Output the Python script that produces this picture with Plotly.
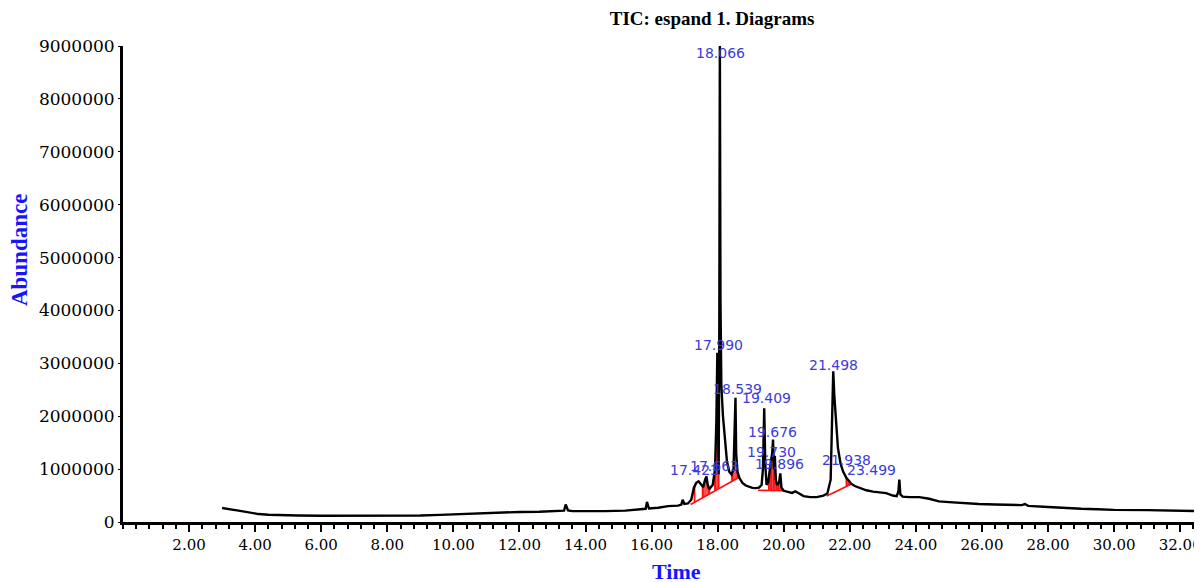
import numpy as np
import plotly.graph_objects as go

# ---- chromatogram (time in min, abundance) ----
time = [3.00, 3.15, 3.30, 3.50, 3.70, 3.90, 4.10, 4.40, 4.80, 5.30, 6.00, 7.00, 8.00, 9.00,
        9.60, 10.00, 10.40, 11.00, 11.50, 12.00, 12.60, 13.20, 13.35, 13.40, 13.47, 13.60,
        14.00, 14.60, 15.20, 15.70, 15.82, 15.86, 15.92, 16.20, 16.50, 16.80, 16.90, 16.94,
        16.99, 17.10, 17.20, 17.28, 17.35, 17.42, 17.50, 17.56, 17.62, 17.66, 17.70, 17.74,
        17.78, 17.85, 17.92, 17.96, 17.99, 18.01, 18.03, 18.05, 18.066, 18.085, 18.11, 18.16,
        18.22, 18.28, 18.35, 18.42, 18.48, 18.51, 18.539, 18.56, 18.60, 18.66, 18.75, 18.85,
        18.95, 19.05, 19.15, 19.25, 19.33, 19.37, 19.409, 19.44, 19.48, 19.53, 19.60, 19.65,
        19.676, 19.70, 19.73, 19.76, 19.80, 19.86, 19.896, 19.93, 20.00, 20.10, 20.25, 20.35,
        20.45, 20.60, 20.80, 21.00, 21.20, 21.32, 21.42, 21.46, 21.498, 21.53, 21.58, 21.64,
        21.72, 21.80, 21.90, 21.938, 21.97, 22.05, 22.15, 22.30, 22.50, 22.70, 22.90, 23.10,
        23.30, 23.42, 23.47, 23.499, 23.53, 23.60, 23.80, 24.10, 24.40, 24.70, 25.00, 25.40,
        25.90, 26.40, 26.90, 27.20, 27.30, 27.40, 28.00, 28.50, 29.00, 29.50, 30.00, 31.00,
        32.00, 32.66]
abundance = [265000, 255000, 235000, 215000, 190000, 165000, 150000, 138000, 128000, 122000,
             118000, 116000, 118000, 122000, 135000, 145000, 160000, 172000, 182000, 190000,
             195000, 205000, 215000, 330000, 220000, 205000, 200000, 205000, 215000, 240000,
             250000, 380000, 255000, 270000, 300000, 310000, 330000, 420000, 340000, 350000,
             420000, 650000, 740000, 770000, 700000, 660000, 800000, 860000, 700000, 620000,
             650000, 700000, 1000000, 1900000, 3200000, 1500000, 900000, 3800000, 9100000,
             4200000, 2600000, 2000000, 1550000, 1150000, 950000, 900000, 1000000, 1600000,
             2350000, 1300000, 950000, 830000, 740000, 690000, 660000, 645000, 640000, 650000,
             700000, 1000000, 2150000, 1100000, 700000, 750000, 1100000, 1300000, 1560000,
             1000000, 1250000, 800000, 700000, 750000, 920000, 650000, 590000, 570000, 550000,
             580000, 540000, 490000, 470000, 470000, 500000, 540000, 800000, 1800000, 2850000,
             2400000, 1950000, 1400000, 1100000, 950000, 830000, 800000, 770000, 720000, 680000,
             640000, 600000, 575000, 560000, 545000, 500000, 490000, 580000, 800000, 520000,
             480000, 470000, 470000, 440000, 390000, 375000, 355000, 340000, 330000, 315000,
             320000, 340000, 305000, 285000, 265000, 250000, 240000, 230000, 225000, 215000,
             205000]

# ---- integration baselines (red) ----
base1_t = [17.18, 18.64]
base1_y = [330000, 840000]
base2_t = [19.22, 20.02]
base2_y = [600000, 590000]
base3_t = [21.30, 22.05]
base3_y = [490000, 720000]

# drop lines (red) at peak boundaries
drop_t = [17.30, 17.55, 17.74, 17.92, 18.03, 18.44, 18.60,
          19.55, 19.62, 19.70, 19.78, 19.84, 19.94, 21.90, 21.98]

# red filled windows
fill_windows = [(17.52, 17.78), (17.90, 18.04), (18.40, 18.62), (19.56, 19.96), (21.88, 22.02)]

# ---- peak labels ----
label_text = ["18.066", "17.990", "18.539", "19.409", "19.676", "19.730", "19.896",
              "17.423", "17.663", "21.498", "21.938", "23.499"]
label_x = [18.08, 18.02, 18.60, 19.47, 19.66, 19.62, 19.87, 17.30, 17.90, 21.50, 21.89, 22.65]
label_y = [8870000, 3350000, 2510000, 2340000, 1700000, 1320000, 1100000,
           980000, 1060000, 2970000, 1170000, 980000]

x_ticks = [2, 4, 6, 8, 10, 12, 14, 16, 18, 20, 22, 24, 26, 28, 30, 32]
x_ticktext = [f"{v:.2f}" for v in x_ticks]
y_ticks = [0, 1000000, 2000000, 3000000, 4000000, 5000000, 6000000, 7000000, 8000000, 9000000]
y_ticktext = [str(v) for v in y_ticks]

RED = "#ff1010"
fig = go.Figure()

tarr = np.array(time, dtype=float)
yarr = np.array(abundance, dtype=float)


def baseline_at(t):
    for bt, by in ((base1_t, base1_y), (base2_t, base2_y), (base3_t, base3_y)):
        if bt[0] <= t <= bt[1]:
            return float(np.interp(t, bt, by))
    return float(np.interp(t, tarr, yarr))


# red fills
for a, b in fill_windows:
    ts = np.linspace(a, b, 30)
    cur = np.interp(ts, tarr, yarr)
    bl = np.array([baseline_at(v) for v in ts])
    fig.add_trace(go.Scatter(x=list(ts) + list(ts[::-1]), y=list(cur) + list(bl[::-1]),
                             fill="toself", fillcolor="rgba(255,20,20,0.75)",
                             line=dict(width=0), mode="lines", hoverinfo="skip",
                             showlegend=False))

# red baselines
for bt, by in ((base1_t, base1_y), (base2_t, base2_y), (base3_t, base3_y)):
    fig.add_trace(go.Scatter(x=bt, y=by, mode="lines", line=dict(color=RED, width=1.6),
                             showlegend=False, hoverinfo="skip"))

# red drop lines
dx, dy = [], []
for t in drop_t:
    dx += [t, t, None]
    dy += [baseline_at(t), float(np.interp(t, tarr, yarr)), None]
fig.add_trace(go.Scatter(x=dx, y=dy, mode="lines", line=dict(color=RED, width=1.8),
                         showlegend=False, hoverinfo="skip"))

# main TIC trace
fig.add_trace(go.Scatter(x=time, y=abundance, mode="lines",
                         line=dict(color="black", width=2.4), showlegend=False))

for txt, lx, ly in zip(label_text, label_x, label_y):
    fig.add_annotation(x=lx, y=ly, text=txt, showarrow=False, xanchor="center",
                       yanchor="middle",
                       font=dict(family="DejaVu Sans", size=14, color="#3b3bd8"))

# page has an 8px body margin: figure is sized/margined to compensate
fig.add_annotation(x=-0.0965, y=0.571, xref="paper", yref="paper", text="<b>Abundance</b>",
                   textangle=-90, showarrow=False, xanchor="center", yanchor="middle",
                   font=dict(family="Liberation Serif", size=23, color="#1515ff"))
fig.add_annotation(x=0.513, y=-0.105, xref="paper", yref="paper", text="<b>Time</b>",
                   showarrow=False, xanchor="center", yanchor="middle",
                   font=dict(family="Liberation Serif", size=22, color="#1515ff"))

fig.update_layout(
    width=1194, height=574,
    margin=dict(l=115, r=0, t=38, b=60),
    paper_bgcolor="white", plot_bgcolor="white",
    title=dict(text="<b>TIC: espand 1. Diagrams</b>", x=0.546, xref="paper",
               y=1 - 10 / 574, yref="container", xanchor="center", yanchor="middle",
               font=dict(family="Liberation Serif", size=19, color="black")),
    xaxis=dict(range=[0, 32.66], tickvals=x_ticks, ticktext=x_ticktext,
               showgrid=False, zeroline=False, showline=True, linecolor="black",
               linewidth=3, ticks="outside", ticklen=7, tickwidth=2, tickcolor="black",
               ticklabeloverflow="allow",
               tickfont=dict(family="DejaVu Serif", size=15, color="black"),
               minor=dict(tick0=0, dtick=0.4, ticks="outside", ticklen=4, tickwidth=2,
                          tickcolor="black", showgrid=False)),
    yaxis=dict(range=[0, 9000000], tickvals=y_ticks, ticktext=y_ticktext,
               showgrid=False, zeroline=False, showline=True, linecolor="black",
               linewidth=3, ticks="outside", ticklen=2, tickwidth=1, tickcolor="black",
               tickfont=dict(family="DejaVu Serif", size=17, color="black")),
)

fig.write_html("out.html")
